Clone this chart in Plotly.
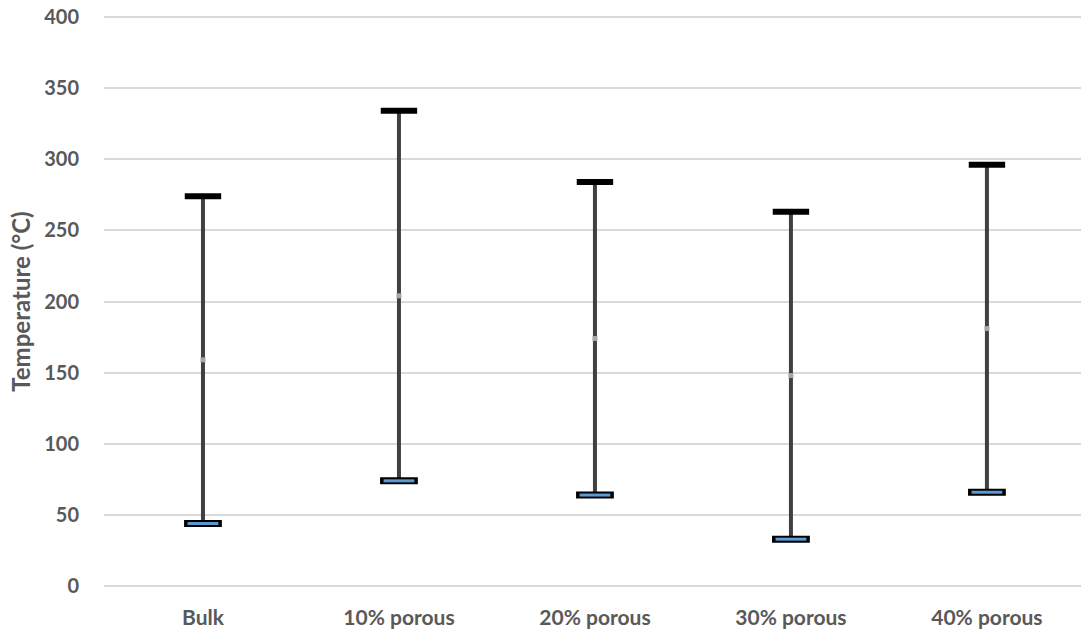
import plotly.graph_objects as go

categories = ["Bulk", "10% porous", "20% porous", "30% porous", "40% porous"]
high_vals = [274, 334, 284, 263, 296]
low_vals = [44, 74, 64, 33, 66]
mean_vals = [159, 204, 174, 148, 181]
y_ticks = [0, 50, 100, 150, 200, 250, 300, 350, 400]

FONT = "Lato"
GREY = "#595959"

fig = go.Figure()

# vertical high-low lines
lx, ly = [], []
for c, h, l in zip(categories, high_vals, low_vals):
    lx += [c, c, None]
    ly += [l, h, None]
fig.add_trace(go.Scatter(x=lx, y=ly, mode="lines",
                         line=dict(color="#404040", width=4),
                         hoverinfo="skip", showlegend=False))

# mean markers
fig.add_trace(go.Scatter(x=categories, y=mean_vals, mode="markers",
                         marker=dict(symbol="square", size=5, color="#A6A6A6",
                                     line=dict(width=0)),
                         showlegend=False))

# low markers: black outline + blue fill
fig.add_trace(go.Scatter(x=categories, y=low_vals, mode="markers",
                         marker=dict(symbol="line-ew", size=27,
                                     line=dict(color="#000000", width=7)),
                         showlegend=False))
fig.add_trace(go.Scatter(x=categories, y=low_vals, mode="markers",
                         marker=dict(symbol="line-ew", size=22,
                                     line=dict(color="#5B9BD5", width=3)),
                         showlegend=False))

# high markers: black bar
fig.add_trace(go.Scatter(x=categories, y=high_vals, mode="markers",
                         marker=dict(symbol="line-ew", size=26,
                                     line=dict(color="#000000", width=6)),
                         showlegend=False))

fig.update_layout(
    width=1081, height=633,
    margin=dict(l=104, r=0, t=14, b=44, autoexpand=False),
    paper_bgcolor="white", plot_bgcolor="white",
    font=dict(family=FONT, color=GREY, size=21),
    showlegend=False,
)

fig.update_xaxes(
    type="category", categoryorder="array", categoryarray=categories,
    range=[-0.505, 4.48], automargin=False,
    showgrid=False, zeroline=False, showline=False,
    ticks="outside", ticklen=10, tickcolor="rgba(0,0,0,0)",
    tickfont=dict(family=FONT, size=21, color=GREY, weight="bold"),
)

fig.update_yaxes(
    range=[-2, 402], tickvals=y_ticks, automargin=False,
    showgrid=True, gridcolor="#D9D9D9", gridwidth=1.5,
    zeroline=False, showline=False,
    ticks="outside", ticklen=20, tickcolor="rgba(0,0,0,0)",
    ticklabeloverflow="allow",
    tickfont=dict(family=FONT, size=20, color=GREY, weight="bold"),
    title=dict(text="Temperature (°C)", standoff=6,
               font=dict(family=FONT, size=24, color=GREY, weight="bold")),
)

fig.write_html(
    "out.html",
    config={"displayModeBar": False},
    post_script="document.body.style.margin='0';document.body.style.overflow='hidden';",
)
